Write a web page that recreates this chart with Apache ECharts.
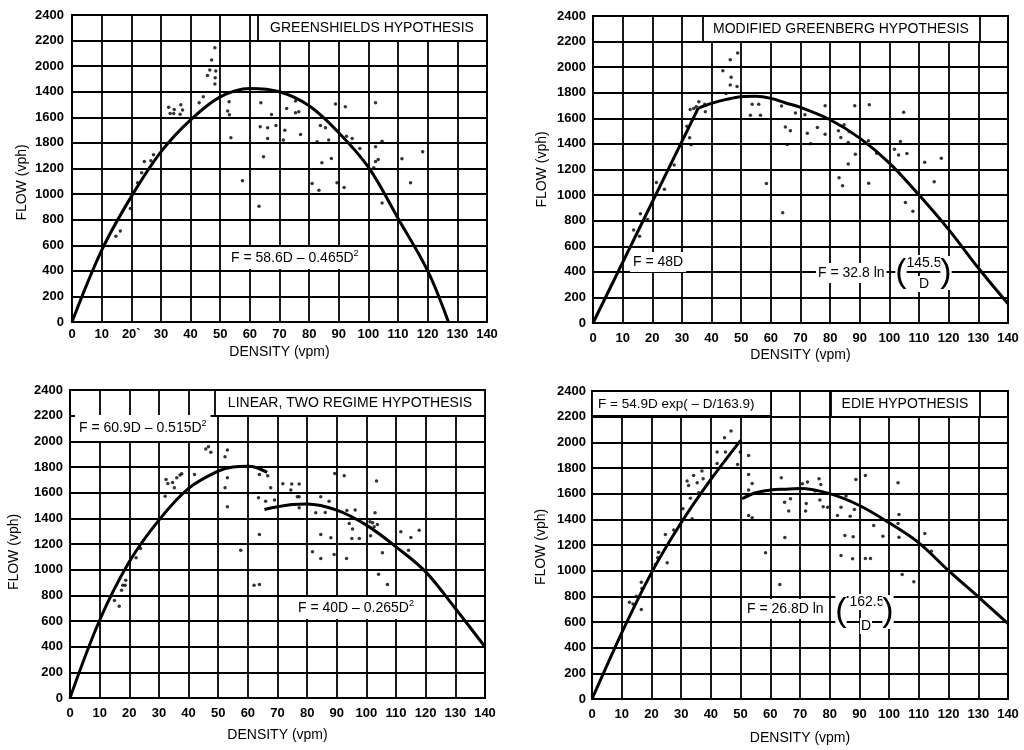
<!DOCTYPE html>
<html>
<head>
<meta charset="utf-8">
<script src="https://cdn.jsdelivr.net/npm/echarts@6/dist/echarts.min.js"></script>
<style>html,body{margin:0;padding:0;background:#fff}#c{width:1024px;height:750px}</style>
</head>
<body>
<div id="c"></div>
<script>
// ---------- tick labels ----------
const xTickLabels = ['0','10','20','30','40','50','60','70','80','90','100','110','120','130','140'];
const xTickLabelsP1 = ['0','10','20`','30','40','50','60','70','80','90','100','110','120','130','140'];
const yTickLabels = ['0','200','400','600','800','1000','1200','1400','1600','1800','2000','2200','2400'];
const yTickLabelsP1 = ['0','200','400','600','800','1000','1200','1800','1600','1400','2000','2200','2400'];

// ---------- Greenshields panel ----------
const greenshieldsPts = [[14.8,670],[16.3,712],[19.7,887],[22.1,1088],[23.5,1166],[24.4,1255],[26.6,1260],[27.5,1307],
[32.6,1678],[34.5,1662],[33.1,1630],[34.3,1630],[36.7,1698],[37.3,1657],[36.5,1625],
[42.9,1714],[44.3,1761],[45.7,1928],[46.5,1970],[47.1,2048],[48.2,2144],[48.5,1962],[48.3,1910],[48.2,1860],
[53.0,1722],[52.5,1649],[53.1,1620],[53.6,1440],[57.5,1104],[63.1,905],[63.7,1714],[63.5,1526],[66.0,1518],[66.0,1435],
[64.6,1291],[67.3,1623],[68.8,1537],[71.3,1422],[71.8,1500],[72.4,1670],
[75.4,1727],[75.4,1636],[76.5,1644],[77.1,1466],[83.8,1537],[85.5,1518],[82.7,1409],[86.6,1422],[88.9,1704],[92.2,1683],
[92.6,1453],[94.5,1435],[97.1,1357],[102.4,1714],[102.4,1370],[104.6,1414],[103.3,1270],[102.4,1255],[101.8,1205],
[84.3,1244],[87.5,1278],[81.0,1083],[83.3,1030],[89.4,1088],[91.8,1051],[104.6,931],[111.3,1276],[118.3,1330],[114.2,1088]];
const greenshieldsCurve = [[0,0],[10,560],[20,980],[30,1330],[40,1580],[50,1760],[60,1826],[70,1800],[80,1690],[90,1480],[100,1210],[110,810],[120,400],[127,0]];

// ---------- Modified Greenberg panel ----------
const greenbergPts = [[13.7,728],[15.7,678],[16.0,854],[18.4,810],[21.4,1099],[24.1,1046],[27.4,1236],[31.7,1538],[32.6,1448],
[33.1,1393],[32.8,1669],[34.0,1677],[34.8,1690],[35.7,1730],[37.7,1711],[37.9,1651],[43.8,1972],[44.9,1795],[46.3,2058],
[46.6,1922],[46.3,1861],[48.8,2111],[48.6,1848],[53.1,1625],[53.7,1711],[55.9,1711],[56.5,1625],[58.5,1091],[63.6,1696],
[64.9,1533],[65.5,1396],[64.0,862],
[66.6,1503],[68.3,1641],[71.5,1628],[72.3,1484],[73.4,1401],[75.7,1529],[78.3,1699],[78.3,1476],[82.8,1503],[83.6,1450],
[84.7,1550],[86.4,1497],[86.1,1411],[86.1,1243],[83.0,1136],[84.2,1073],[88.5,1319],[88.3,1699],[93.2,1707],[92.9,1424],
[95.7,1327],[93.0,1092],[101.7,1359],[103.1,1314],[103.7,1419],[104.8,1647],[105.9,1325],[105.4,942],[107.9,874],
[111.9,1257],[117.5,1288],[115.1,1105]];
const greenbergLine = [[0,0],[35.5,1680]];
const greenbergCurve = [[35.5,1680],[40,1717],[45,1748],[50,1769],[55,1772],[60,1756],[65,1720],[70,1686],[80,1589],[90,1445],[100,1250],[110,1000],[120,730],[130,430],[140,150]];

// ---------- Linear, two regime panel ----------
const twoRegimePts = [[15.0,759],[16.6,715],[17.4,840],[17.8,879],[18.6,879],[18.8,918],[22.3,1092],[23.8,1165],[32.4,1703],
[33.0,1672],[32.1,1573],[34.6,1680],[35.2,1638],[36.0,1716],[37.1,1737],[37.7,1747],[42.0,1742],[44.4,2036],[44.8,2002],
[45.8,1940],[46.7,1958],[47.5,1914],[52.3,1880],[53.1,1932],[52.3,1638],[53.1,1716],[53.1,1490],[57.6,1152],[62.1,879],
[63.9,884],[63.9,1274],[63.6,1560],[63.9,1742],[66.0,1534],[66.7,1732],[67.7,1638],[69.0,1542],[71.8,1669],
[74.8,1667],[74.5,1620],[77.3,1667],[76.7,1568],[77.3,1568],[77.3,1482],[84.6,1568],[87.4,1534],[82.9,1443],[86.1,1446],
[84.6,1274],[88.0,1248],[81.8,1139],[84.6,1087],[89.1,1118],[89.3,1750],[92.5,1732],[93.3,1087],[93.4,1461],[96.2,1464],
[94.2,1360],[95.3,1316],[95.1,1243],[97.6,1243],[101.2,1373],[102.1,1365],[102.6,1334],[103.7,1352],[102.9,1443],
[103.4,1690],[101.4,1264],[105.4,1131],[104.1,965],[107.1,884],[111.6,1295],[115.0,1251],[117.8,1308],[114.2,1152]];
const twoRegimeCurveA = [[0,0],[10,606],[20,1061],[30,1386],[40,1633],[50,1768],[55,1800],[60,1805],[63,1794],[66.5,1758]];
const twoRegimeCurveB = [[65.6,1469],[70,1490],[75,1508],[80,1512],[90,1464],[100,1347],[110,1178],[120,983],[130,697],[140,398]];

// ---------- Edie panel ----------
const ediePts = [[12.6,754],[13.8,741],[14.9,801],[16.6,910],[16.8,861],[16.6,697],[21.3,1048],[22.1,1100],[22.4,1144],
[25.3,1061],[24.7,1282],[27.5,1316],[30.6,1482],[32.0,1698],[32.5,1664],[33.1,1565],[33.7,1404],[34.2,1742],[35.4,1685],
[35.9,1607],[37.0,1776],[37.4,1716],[42.1,1924],[42.1,1836],[44.6,2036],[44.9,1924],[46.8,2088],[49.0,1828],[49.9,1924],
[52.7,1898],[52.7,1750],[53.9,1680],[52.7,1628],[52.7,1430],[53.9,1412],[58.4,1139],[63.2,892],[63.7,1724],[64.8,1534],
[64.9,1258],[66.2,1464],
[66.8,1560],[70.8,1677],[72.5,1690],[72.1,1524],[71.9,1464],[75.1,1620],[76.4,1716],[77.0,1672],[76.7,1550],[77.8,1498],
[79.3,1495],[83.8,1495],[85.5,1581],[82.6,1430],[86.9,1425],[88.3,1477],[88.8,1711],[92.0,1742],[85.1,1274],[87.9,1264],
[83.8,1118],[87.7,1092],[92.0,1095],[93.7,1095],[94.8,1352],[97.9,1269],[103.0,1685],[103.3,1438],[103.0,1368],
[103.3,1261],[112.0,1290],[114.2,1152],[104.4,970],[108.3,913]];
const edieLine = [[0,0],[10,515],[20,983],[30,1373],[40,1711],[50,2015]];
const edieCurve = [[50.5,1560],[55,1607],[60,1628],[65,1635],[70,1640],[80,1600],[90,1508],[100,1373],[110,1217],[120,1000],[130,796],[140,588]];

// ---------- layout ----------
const FONT = '"Liberation Sans", Arial, Helvetica, sans-serif';
const grids = [
  {left:72, top:15, width:415, height:307},
  {left:593, top:16, width:415, height:307},
  {left:70, top:390, width:415, height:308},
  {left:592, top:391, width:416, height:308}
];
const xLabelMargin = [6, 9, 9, 9];
const yLabelMargin = [8, 7, 7, 6];
const xNameGap = [23, 25, 30, 32];
const yNameGap = [43, 44, 49, 44];
const yNamePad = [[0, 28, 0, 0], [0, 0, 0, 0], [0, 16, 0, 0], [0, 4, 0, 0]];

const xAxes = grids.map((g, i) => ({
  gridIndex: i, type: 'value', min: 0, max: 140, interval: 10,
  axisLine: {show: true, onZero: false, lineStyle: {color: '#000', width: 2}},
  axisTick: {show: false},
  splitLine: {show: true, lineStyle: {color: '#000', width: 1.8}},
  axisLabel: {color: '#000', fontSize: 13, fontWeight: 'bold', fontFamily: FONT, margin: xLabelMargin[i],
    formatter: v => (i === 0 ? xTickLabelsP1 : xTickLabels)[Math.round(v / 10)]},
  name: 'DENSITY (vpm)', nameLocation: 'middle', nameGap: xNameGap[i],
  nameTextStyle: {color: '#000', fontSize: 14, fontFamily: FONT}
}));
const yAxes = grids.map((g, i) => ({
  gridIndex: i, type: 'value', min: 0, max: 2400, interval: 200,
  axisLine: {show: true, onZero: false, lineStyle: {color: '#000', width: 2}},
  axisTick: {show: false},
  splitLine: {show: true, lineStyle: {color: '#000', width: 1.8}},
  axisLabel: {color: '#000', fontSize: 13, fontWeight: 'bold', fontFamily: FONT, margin: yLabelMargin[i],
    formatter: v => (i === 0 ? yTickLabelsP1 : yTickLabels)[Math.round(v / 200)]},
  name: 'FLOW (vph)', nameLocation: 'middle', nameGap: yNameGap[i],
  nameTextStyle: {color: '#000', fontSize: 14, fontFamily: FONT, padding: yNamePad[i]}
}));

function scatter(i, data) {
  return {type: 'scatter', xAxisIndex: i, yAxisIndex: i, data: data, symbolSize: 3.5,
    itemStyle: {color: '#000'}, z: 5, silent: true};
}
function curve(i, data, smooth) {
  return {type: 'line', xAxisIndex: i, yAxisIndex: i, data: data, smooth: smooth, symbol: 'none',
    lineStyle: {color: '#000', width: 3}, z: 6, silent: true};
}

function box(x, y, w, h) {
  return {type: 'rect', z: 99, silent: true, shape: {x: x, y: y, width: w, height: h},
    style: {fill: '#fff', stroke: '#000', lineWidth: 1.8}};
}
function txt(x, y, text, extra) {
  return {type: 'text', z: 100, silent: true,
    style: Object.assign({x: x, y: y, text: text, fill: '#000', fontSize: 14, fontFamily: FONT,
      align: 'left', verticalAlign: 'middle'}, extra || {})};
}
const richSup = {
  b: {fontSize: 14, fontFamily: FONT, fill: '#000', lineHeight: 18},
  s: {fontSize: 9, fontFamily: FONT, fill: '#000', verticalAlign: 'top', lineHeight: 18}
};

const graphics = [
  // Panel 1
  box(258, 15, 229, 26),
  txt(372, 28.5, 'GREENSHIELDS HYPOTHESIS', {align: 'center', fontSize: 14}),
  txt(228, 258, '{b|F = 58.6D – 0.465D}{s|2}', {rich: richSup, backgroundColor: '#fff', padding: [2, 3]}),
  // Panel 2
  box(703, 16, 277, 26),
  txt(841, 29.5, 'MODIFIED GREENBERG HYPOTHESIS', {align: 'center', fontSize: 14}),
  txt(630, 262, 'F = 48D', {backgroundColor: '#fff', padding: [3, 3]}),
  txt(816, 273, 'F = 32.8 ln', {backgroundColor: '#fff', padding: [3, 2]}),
  txt(901, 273, '(', {align: 'center', fontSize: 34, backgroundColor: '#fff'}),
  txt(924, 263, '145.5', {align: 'center', backgroundColor: '#fff', padding: [1, 1]}),
  txt(924, 284, 'D', {align: 'center', backgroundColor: '#fff', padding: [1, 1]}),
  txt(946, 273, ')', {align: 'center', fontSize: 34, backgroundColor: '#fff'}),
  // Panel 3
  box(215, 390, 270, 26),
  txt(350, 403.5, 'LINEAR, TWO REGIME HYPOTHESIS', {align: 'center', fontSize: 14}),
  txt(75, 428, '{b|F = 60.9D – 0.515D}{s|2}', {rich: richSup, backgroundColor: '#fff', padding: [4, 4]}),
  txt(295, 608, '{b|F = 40D – 0.265D}{s|2}', {rich: richSup, backgroundColor: '#fff', padding: [2, 3]}),
  // Panel 4
  box(592, 391, 179, 25),
  txt(598, 404, 'F = 54.9D exp( – D/163.9)', {fontSize: 13.5}),
  box(831, 391, 149, 26),
  txt(905, 404.5, 'EDIE HYPOTHESIS', {align: 'center', fontSize: 14}),
  txt(745, 609, 'F = 26.8D ln', {backgroundColor: '#fff', padding: [3, 2]}),
  txt(841, 612, '(', {align: 'center', fontSize: 34, backgroundColor: '#fff'}),
  txt(867, 602, '162.5', {align: 'center', backgroundColor: '#fff', padding: [1, 1]}),
  txt(866, 626, 'D', {align: 'center', backgroundColor: '#fff', padding: [1, 1]}),
  txt(888, 612, ')', {align: 'center', fontSize: 34, backgroundColor: '#fff'})
];

const chart = echarts.init(document.getElementById('c'), null, {renderer: 'canvas'});
chart.setOption({
  animation: false,
  backgroundColor: '#fff',
  grid: grids.map(g => Object.assign({show: true, borderColor: '#000', borderWidth: 2, backgroundColor: 'transparent'}, g)),
  xAxis: xAxes,
  yAxis: yAxes,
  series: [
    scatter(0, greenshieldsPts), curve(0, greenshieldsCurve, 0.35),
    scatter(1, greenbergPts), curve(1, greenbergLine, false), curve(1, greenbergCurve, 0.35),
    scatter(2, twoRegimePts), curve(2, twoRegimeCurveA, 0.35), curve(2, twoRegimeCurveB, 0.35),
    scatter(3, ediePts), curve(3, edieLine, 0.2), curve(3, edieCurve, 0.35)
  ],
  graphic: graphics
});
</script>
</body>
</html>
